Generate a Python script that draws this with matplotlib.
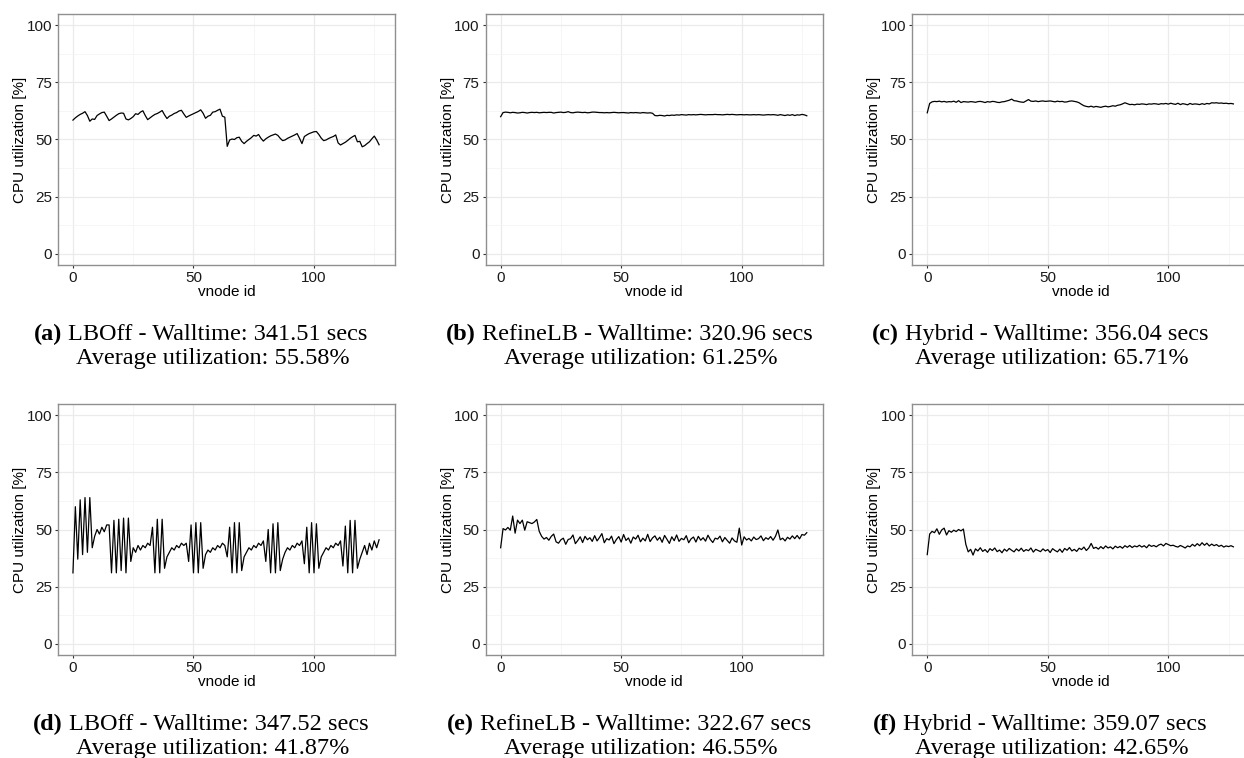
import numpy as np
import matplotlib
matplotlib.use("Agg")
import matplotlib.pyplot as plt
from matplotlib.ticker import MultipleLocator

plt.rcParams["font.family"] = ["Liberation Sans", "DejaVu Sans"]

W, H = 1244, 758

vnode = np.arange(128)

# CPU utilization per vnode [%]
lboff_1 = [
    58.5, 59.5, 60.3, 61.0, 61.5, 62.2, 60.5, 58.0,
    59.0, 58.8, 60.5, 61.2, 61.8, 62.0, 60.2, 58.3,
    59.0, 59.8, 60.6, 61.3, 61.6, 61.5, 59.0, 58.6,
    59.2, 60.0, 61.3, 61.0, 62.0, 62.6, 60.5, 58.7,
    59.5, 60.3, 61.0, 61.4, 62.0, 62.7, 60.8, 59.2,
    60.2, 60.7, 61.4, 61.8, 62.5, 62.8, 61.2, 59.7,
    60.3, 60.8, 61.3, 61.8, 62.3, 63.0, 61.5, 59.3,
    60.2, 60.6, 62.0, 62.2, 62.8, 63.3, 60.2, 59.8,
    47.0, 49.8, 50.2, 50.0, 50.8, 51.0, 49.2, 48.2,
    49.2, 50.0, 50.8, 51.8, 51.5, 52.2, 50.5, 49.3,
    50.3, 51.0, 51.6, 52.0, 52.4, 51.8, 50.5, 49.5,
    49.8, 50.5, 51.0, 51.5, 52.0, 52.6, 50.5, 48.2,
    51.3, 52.0, 52.6, 53.0, 53.4, 53.5, 52.2, 50.6,
    49.5, 49.8, 50.4, 50.9, 51.3, 52.0, 48.5, 47.6,
    48.2, 48.8, 49.6, 50.5, 51.2, 51.8, 49.0, 49.2,
    46.8, 47.3, 48.2, 49.0, 50.3, 51.5, 49.8, 47.7,
]

refine_1 = [
    60.0, 61.8, 62.0, 61.9, 61.7, 61.9, 61.8, 61.6,
    61.7, 61.9, 61.8, 61.6, 61.8, 61.9, 61.8, 61.9,
    61.7, 61.8, 61.9, 61.8, 61.9, 61.9, 61.6, 61.8,
    61.9, 62.0, 61.8, 61.9, 62.2, 61.8, 61.7, 61.9,
    62.0, 61.9, 61.8, 61.9, 61.7, 61.8, 62.0, 62.0,
    61.9, 61.8, 61.8, 61.7, 61.8, 61.7, 61.8, 61.9,
    61.8, 61.7, 61.8, 61.8, 61.7, 61.6, 61.8, 61.7,
    61.8, 61.7, 61.6, 61.8, 61.7, 61.6, 61.7, 61.5,
    60.5, 60.4, 60.6, 60.5, 60.3, 60.6, 60.5, 60.7,
    60.6, 60.8, 60.7, 60.9, 60.8, 60.7, 60.9, 60.8,
    60.9, 60.8, 60.9, 61.0, 60.9, 60.8, 60.9, 60.9,
    60.9, 61.0, 60.9, 60.9, 60.8, 60.9, 61.0, 60.9,
    61.0, 60.9, 60.8, 60.9, 60.9, 60.8, 60.9, 60.8,
    60.8, 60.9, 60.8, 60.9, 60.8, 60.7, 60.8, 60.9,
    60.8, 60.9, 60.8, 60.6, 60.9, 60.7, 60.5, 60.8,
    60.6, 60.9, 60.5, 60.8, 60.7, 61.0, 60.8, 60.4,
]

hybrid_1 = [
    61.7, 65.8, 66.5, 66.7, 66.6, 66.8, 66.5, 66.7,
    66.4, 66.6, 66.5, 66.8, 66.3, 67.0, 66.2, 66.6,
    66.5, 66.4, 66.6, 66.5, 66.3, 66.6, 66.7, 66.5,
    66.2, 66.6, 66.4, 66.7, 66.6, 66.3, 66.2, 66.5,
    66.6, 66.9, 67.2, 67.7, 67.0, 66.9, 66.6, 66.4,
    66.3, 66.9, 67.5, 66.8, 66.7, 66.9, 66.6, 66.8,
    66.9, 66.7, 66.8, 66.9, 66.7, 66.5, 66.8, 66.6,
    66.7, 66.4, 66.5, 66.8, 66.9, 66.7, 66.5, 66.1,
    65.4, 64.8, 64.5, 64.3, 64.6, 64.2, 64.5, 64.3,
    64.1, 64.4, 64.6, 64.3, 64.5, 64.8, 64.6, 65.0,
    65.2, 65.6, 66.1, 65.7, 65.3, 65.4, 65.2, 65.5,
    65.4, 65.6, 65.5, 65.3, 65.6, 65.5, 65.7, 65.6,
    65.4, 65.7, 65.6, 65.8, 65.5, 65.9, 65.6, 65.4,
    65.9, 65.3, 65.7, 65.5, 65.2, 65.8, 65.4, 65.6,
    65.5, 65.3, 65.7, 65.4, 65.8, 65.6, 66.1, 66.0,
    66.1, 65.9, 66.0, 65.8, 65.9, 65.7, 65.8, 65.6,
]

lboff_2 = [
    31, 60, 37, 63, 39, 64, 40, 64, 42,
    47, 50, 48, 51, 49, 52,
    52, 31, 54, 31, 54.5, 32, 55, 31, 55, 36,
    42, 40, 43, 41, 43, 42, 44, 43,
    51, 31, 54.5, 31, 54.5, 33, 38,
    40, 42, 41, 43, 42, 44, 43, 44, 36,
    52, 31, 53, 31, 53, 33, 39,
    41, 40, 42, 41, 43, 42, 44, 43, 38,
    51, 31, 53, 31, 53, 32, 38,
    40, 42, 41, 43, 42, 44, 43, 45, 36,
    50, 31, 52.5, 31, 53, 32, 37,
    40, 42, 41, 43, 42, 44, 43, 45, 35,
    51, 31, 53, 31, 52.5, 33, 38,
    40, 42, 41, 43, 42, 44, 43, 45, 34,
    51.5, 31, 54, 31, 54, 33, 37,
    40, 43, 39, 44, 41, 45, 42, 45.5,
]

refine_2 = [
    42.0, 50.4, 49.8, 50.9, 49.7, 55.9, 48.4, 54.1,
    52.6, 54.1, 49.7, 53.4, 53.0, 52.6, 53.3, 54.4,
    49.2, 47.0, 45.8, 46.5, 45.3, 47.0, 48.0, 44.6,
    44.0, 45.5, 46.2, 43.5, 45.6, 46.0, 47.6, 43.8,
    45.2, 46.8, 44.3, 47.0, 45.5, 46.4, 44.8, 47.3,
    45.0, 46.5, 48.2, 44.2, 46.0, 45.4, 47.1, 43.8,
    45.6, 46.9, 44.5, 47.8, 45.2, 46.3, 44.0, 46.7,
    45.8, 47.5, 44.6, 46.2, 45.0, 47.9, 44.7, 46.3,
    47.2, 45.3, 46.6, 44.4, 47.4, 45.7, 43.9, 46.8,
    45.1, 47.6, 44.8, 46.1, 45.5, 47.3, 44.2, 45.9,
    46.7, 44.5, 47.0, 45.3, 46.4, 44.9, 47.5, 45.6,
    44.3, 46.2, 45.8, 47.1, 44.6, 46.5, 45.2, 44.0,
    46.3, 45.0, 44.4, 50.6, 43.2, 46.8, 45.4, 46.1,
    45.0, 46.7, 45.6, 46.0, 47.2, 45.1, 46.4, 45.7,
    46.9, 45.3, 47.0, 49.8, 45.5, 46.2, 45.0, 46.6,
    45.8, 47.2, 46.0, 47.4, 45.9, 47.8, 47.5, 48.6,
]

hybrid_2 = [
    39.0, 48.0, 49.2, 48.6, 50.3, 47.9, 49.8, 50.6,
    47.6, 49.5, 48.8, 49.7, 49.1, 50.0, 49.4, 50.2,
    43.5, 40.2, 41.3, 38.8, 41.5, 40.6, 42.0, 40.4,
    41.2, 40.0, 41.6, 40.8, 41.9, 40.3, 41.0, 39.8,
    41.4, 40.5, 41.7, 40.9, 40.2, 41.5, 40.6, 41.8,
    40.4, 41.2, 40.7, 41.9, 40.1, 41.3, 40.8, 40.3,
    41.5, 40.6, 41.2, 39.9, 41.6, 40.8, 40.2, 41.4,
    40.0, 41.7, 40.9, 42.1, 40.6, 41.3, 40.4, 41.8,
    41.2, 42.3, 40.8, 41.9, 43.9, 41.7, 42.2, 41.4,
    42.5, 41.6, 42.8, 41.9, 42.4, 41.5, 42.7, 42.0,
    42.6, 41.8, 42.9, 42.2, 43.0, 42.1, 42.8, 42.4,
    43.1, 42.3, 42.9, 42.0, 43.3, 42.6, 43.0, 42.4,
    43.2, 43.6, 42.8, 43.9, 43.4, 42.9, 43.1, 42.6,
    42.3, 43.0, 42.5, 41.9, 42.8, 42.4, 43.5, 42.7,
    43.8, 42.9, 44.2, 43.1, 44.0, 42.8, 43.6, 42.9,
    43.4, 42.6, 43.1, 42.3, 42.8, 42.5, 42.9, 42.4,
]

series = [lboff_1, refine_1, hybrid_1, lboff_2, refine_2, hybrid_2]

labels = ["(a)", "(b)", "(c)", "(d)", "(e)", "(f)"]
captions = [
    "LBOff - Walltime: 341.51 secs",
    "RefineLB - Walltime: 320.96 secs",
    "Hybrid - Walltime: 356.04 secs",
    "LBOff - Walltime: 347.52 secs",
    "RefineLB - Walltime: 322.67 secs",
    "Hybrid - Walltime: 359.07 secs",
]
averages = ["55.58%", "61.25%", "65.71%", "41.87%", "46.55%", "42.65%"]

# layout in pixels
col_left = [58, 485.7, 912.3]
row_top = [14, 404]
ax_w, ax_h = 337, 251
cap1_cx = [201, 629, 1040]
cap2_cx = [213, 641, 1052]
cap1_base = [340, 730]
cap2_base = [364, 754]


def style_axis(ax):
    ax.set_xlim(-6.2, 133.6)
    ax.set_ylim(-5, 105)
    ax.xaxis.set_major_locator(MultipleLocator(50))
    ax.xaxis.set_minor_locator(MultipleLocator(25))
    ax.yaxis.set_major_locator(MultipleLocator(25))
    ax.yaxis.set_minor_locator(MultipleLocator(12.5))
    ax.grid(which="major", color="#ebebeb", lw=0.9)
    ax.grid(which="minor", color="#f3f3f3", lw=0.5)
    ax.set_axisbelow(True)
    for s in ax.spines.values():
        s.set_color("#8f8f8f")
        s.set_linewidth(1.0)
    ax.tick_params(which="major", length=2.4, width=0.8, color="#333333",
                   labelsize=11, labelcolor="#1a1a1a", pad=2)
    ax.tick_params(which="minor", length=0)
    ax.set_xlabel("vnode id", fontsize=11)
    ax.set_ylabel("CPU utilization [%]", fontsize=11)
    ax.xaxis.set_label_coords(0.5, -0.08)
    ax.yaxis.set_label_coords(-0.092, 0.5)


fig = plt.figure(figsize=(W / 100, H / 100), dpi=100)
renderer = fig.canvas.get_renderer()

for i, vals in enumerate(series):
    r, c = divmod(i, 3)
    ax = fig.add_axes([col_left[c] / W,
                       1 - (row_top[r] + ax_h) / H,
                       ax_w / W, ax_h / H])
    style_axis(ax)
    ax.plot(vnode, vals, color="black", lw=0.9)

    # caption: bold label + regular text, centred as a line
    t1 = fig.text(0, 0, labels[i], fontfamily="Liberation Serif",
                  fontweight="bold", fontsize=17.5, va="baseline")
    t2 = fig.text(0, 0, captions[i], fontfamily="Liberation Serif",
                  fontsize=17.5, va="baseline")
    w1 = t1.get_window_extent(renderer).width
    w2 = t2.get_window_extent(renderer).width
    gap = 6
    x0 = cap1_cx[c] - (w1 + gap + w2) / 2
    yb = 1 - cap1_base[r] / H
    t1.set_position((x0 / W, yb))
    t2.set_position(((x0 + w1 + gap) / W, yb))

    fig.text(cap2_cx[c] / W, 1 - cap2_base[r] / H,
             "Average utilization: " + averages[i],
             fontfamily="Liberation Serif", fontsize=17.5,
             ha="center", va="baseline")

fig.savefig("out.png", dpi=100)
